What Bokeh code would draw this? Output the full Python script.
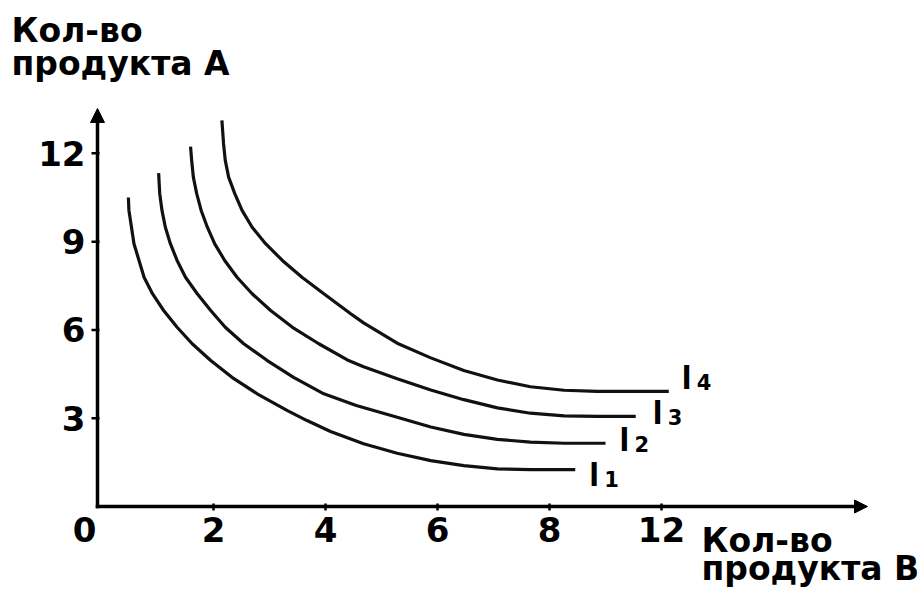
from bokeh.plotting import figure
from bokeh.models import ColumnDataSource, Range1d, Arrow, NormalHead
from bokeh.core.properties import value
from bokeh.embed import file_html
from bokeh.resources import INLINE

# ---------------- data ----------------
x_ticks = [2, 4, 6, 8, 10]
x_tick_labels = ["2", "4", "6", "8", "12"]
y_ticks = [3, 6, 9, 12]
y_tick_labels = ["3", "6", "9", "12"]
origin_label = "0"
y_title = ["Кол-во", "продукта А"]
x_title = ["Кол-во", "продукта В"]
curve_ids = ["1", "2", "3", "4"]

i1_x = [0.48, 0.49, 0.58, 0.67, 0.76, 0.91, 1.11, 1.35, 1.62, 1.95, 2.33, 2.78,
        3.32, 3.67, 4.09, 4.68, 5.28, 5.88, 6.47, 7.07, 7.66, 8.46]
i1_y = [10.50, 10.06, 8.93, 8.36, 7.79, 7.23, 6.66, 6.09, 5.53, 4.96, 4.39, 3.83,
        3.26, 2.92, 2.55, 2.13, 1.81, 1.56, 1.39, 1.28, 1.25, 1.25]

i2_x = [1.02, 1.04, 1.08, 1.14, 1.23, 1.35, 1.50, 1.71, 1.95, 2.21, 2.54, 2.96,
        3.43, 3.97, 4.55, 5.28, 5.88, 6.47, 7.07, 7.66, 8.26, 9.00]
i2_y = [11.33, 10.63, 10.06, 9.49, 8.93, 8.36, 7.79, 7.23, 6.66, 6.09, 5.53, 4.96,
        4.39, 3.83, 3.43, 3.03, 2.70, 2.45, 2.28, 2.19, 2.15, 2.15]

i3_x = [1.59, 1.61, 1.64, 1.70, 1.78, 1.89, 2.02, 2.20, 2.42, 2.69, 3.02, 3.41,
        3.88, 4.39, 4.68, 5.28, 5.88, 6.47, 7.07, 7.66, 8.26, 8.85, 9.54]
i3_y = [12.23, 11.76, 11.19, 10.63, 10.06, 9.49, 8.93, 8.36, 7.79, 7.23, 6.66, 6.09,
        5.53, 4.98, 4.75, 4.34, 3.96, 3.63, 3.35, 3.17, 3.08, 3.06, 3.06]

i4_x = [2.15, 2.18, 2.21, 2.27, 2.38, 2.51, 2.69, 2.93, 3.23, 3.58, 3.97, 4.45,
        4.68, 5.28, 5.88, 6.47, 7.07, 7.66, 8.26, 8.85, 10.13]
i4_y = [13.12, 12.32, 11.76, 11.19, 10.63, 10.06, 9.49, 8.93, 8.36, 7.79, 7.23, 6.55,
        6.24, 5.55, 5.05, 4.62, 4.30, 4.07, 3.95, 3.91, 3.91]

curves_x = [i1_x, i2_x, i3_x, i4_x]
curves_y = [i1_y, i2_y, i3_y, i4_y]

# ---------------- layout / style ----------------
W, H = 918, 590
X0_PX, Y0_PX = 101.0, 506.0          # pixel position of the data origin
PX_X, PX_Y = 56.0, 29.43             # pixels per data unit
AXIS_X = (97.0 - X0_PX) / PX_X       # vertical axis line
X_TIP = (867.0 - X0_PX) / PX_X       # arrow tips
Y_TIP = (Y0_PX - 108.0) / PX_Y
FONT = "DejaVu Sans"
INK = "#111111"
BASE_FIX = 0.4                       # baseline correction, in em

p = figure(width=W, height=H, output_backend="svg", toolbar_location=None,
           x_range=Range1d(-X0_PX / PX_X, (W - X0_PX) / PX_X),
           y_range=Range1d(-(H - Y0_PX) / PX_Y, Y0_PX / PX_Y),
           x_axis_location=None, y_axis_location=None, min_border=0)
p.grid.visible = False
p.outline_line_color = None
p.background_fill_color = "white"
p.border_fill_color = "white"

# axes with arrow heads
p.add_layout(Arrow(end=NormalHead(size=14, fill_color="black", line_color="black"),
                   x_start=AXIS_X, y_start=-1.75 / PX_Y, x_end=AXIS_X, y_end=Y_TIP,
                   line_width=3.5, line_color="black"))
p.add_layout(Arrow(end=NormalHead(size=13, fill_color="black", line_color="black"),
                   x_start=AXIS_X - 1.75 / PX_X, y_start=0, x_end=X_TIP, y_end=0,
                   line_width=3.5, line_color="black"))

# tick marks
p.segment(x0=[AXIS_X - 6 / PX_X] * len(y_ticks), x1=[AXIS_X + 2 / PX_X] * len(y_ticks),
          y0=y_ticks, y1=y_ticks, line_width=2.5, line_color="black")
p.segment(x0=x_ticks, x1=x_ticks, y0=[-4 / PX_Y] * len(x_ticks),
          y1=[3 / PX_Y] * len(x_ticks), line_width=2.5, line_color="black")

TICK_FS = 34
tick_style = dict(text_font=value(FONT), text_font_style="bold",
                  text_font_size=f"{TICK_FS}px", text_color="black")
p.text(x=[AXIS_X] * len(y_ticks), y=y_ticks, text=y_tick_labels, x_offset=-12,
       text_align="right", text_baseline="middle", **tick_style)
p.text(x=x_ticks, y=[0] * len(x_ticks), text=x_tick_labels,
       y_offset=37 - BASE_FIX * TICK_FS,
       text_align="center", text_baseline="alphabetic", **tick_style)
p.text(x=[AXIS_X], y=[0], text=[origin_label], x_offset=-13,
       y_offset=37 - BASE_FIX * TICK_FS,
       text_align="center", text_baseline="alphabetic", **tick_style)

# indifference curves
for xs, ys in zip(curves_x, curves_y):
    p.line(xs, ys, line_width=3.2, line_color=INK, line_join="round")

# curve labels I1..I4
I_FS, N_FS = 35, 21
ends_x = [xs[-1] for xs in curves_x]
ends_y = [ys[-1] for ys in curves_y]
lab_dx = [17, 17, 20, 16]
lab_dy = [18, 9, 9, -1]
src_I = ColumnDataSource(dict(x=ends_x, y=ends_y, t=["I"] * 4,
                              dx=[d - 3 for d in lab_dx],
                              dy=[d - BASE_FIX * I_FS for d in lab_dy]))
src_n = ColumnDataSource(dict(x=ends_x, y=ends_y, t=curve_ids,
                              dx=[d + 12 for d in lab_dx],
                              dy=[d - BASE_FIX * N_FS for d in lab_dy]))
p.text(x="x", y="y", text="t", x_offset="dx", y_offset="dy", source=src_I,
       text_font=value("Liberation Sans"), text_font_style="bold",
       text_font_size=f"{I_FS}px",
       text_baseline="alphabetic", text_align="left", text_color="black")
p.text(x="x", y="y", text="t", x_offset="dx", y_offset="dy", source=src_n,
       text_font=value(FONT), text_font_style="bold", text_font_size=f"{N_FS}px",
       text_baseline="alphabetic", text_align="left", text_color="black")

# axis titles
TITLE_FS = 33
title_style = dict(text_font=value(FONT), text_font_style="bold",
                   text_font_size=f"{TITLE_FS}px", text_color="black",
                   text_align="left", text_baseline="alphabetic")
fix = BASE_FIX * TITLE_FS
p.text(x=[AXIS_X] * 2, y=[Y_TIP] * 2, text=y_title, x_offset=-86,
       y_offset=[-65 - fix, -32 - fix], **title_style)
p.text(x=[X_TIP] * 2, y=[0] * 2, text=x_title, x_offset=-166,
       y_offset=[47 - fix, 75 - fix], **title_style)

open("out.html", "w").write(file_html(p, INLINE))
